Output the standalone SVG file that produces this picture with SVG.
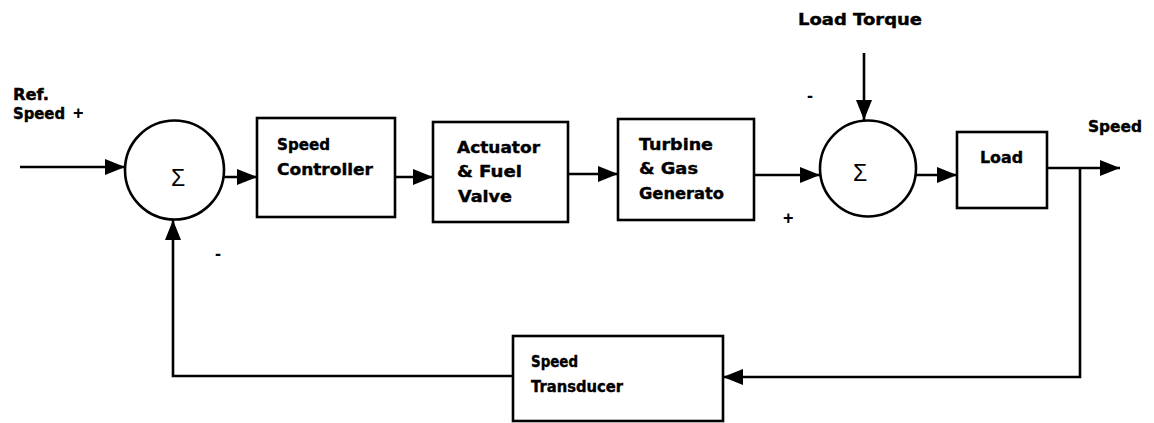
<svg xmlns="http://www.w3.org/2000/svg" width="1154" height="423" viewBox="0 0 1154 423">
<style>
.blk{fill:#fff;stroke:#000;stroke-width:2.6}
.ln{fill:none;stroke:#000;stroke-width:2.6;marker-end:url(#ah)}
.t{font-family:"DejaVu Sans",sans-serif;font-weight:bold;font-size:16px;fill:#000;stroke:#000;stroke-width:0.4}
.ts{font-size:15px}
.s{font-family:"Liberation Sans",sans-serif;font-size:23px;fill:#000;text-anchor:middle}
.sg{font-family:"Liberation Sans",sans-serif;font-weight:bold;font-size:18px;fill:#000}
</style>
<defs>
<marker id="ah" markerUnits="userSpaceOnUse" markerWidth="22" markerHeight="18" refX="20" refY="8" orient="auto">
<path d="M0,0 L20,8 L0,16 z" fill="#000"/>
</marker>
</defs>
<rect width="1154" height="423" fill="#fff"/>
<g id="connectors">
<path class="ln" d="M20,167 L125,167"/>
<path class="ln" d="M224,177 L257,177"/>
<path class="ln" d="M395,177 L433,177"/>
<path class="ln" d="M568,174 L618,174"/>
<path class="ln" d="M754,175 L820,175"/>
<path class="ln" d="M864,53 L864,120"/>
<path class="ln" d="M916,175 L957,175"/>
<path class="ln" d="M1047,168 L1120,168"/>
<path class="ln" d="M1080,168 L1080,377 L723,377"/>
<path class="ln" d="M513,376 L173,376 L173,220"/>
</g>
<g id="sum1">
<circle class="blk" cx="174.5" cy="170" r="49.5"/>
<text class="s" x="178" y="186">Σ</text>
</g>
<g id="speed-controller">
<rect class="blk" x="257" y="118" width="138" height="99"/>
<text class="t" x="277" y="150" textLength="53" lengthAdjust="spacingAndGlyphs">Speed</text>
<text class="t" x="277" y="175" textLength="96" lengthAdjust="spacingAndGlyphs">Controller</text>
</g>
<g id="actuator">
<rect class="blk" x="433" y="122" width="135" height="100"/>
<text class="t" x="457" y="153" textLength="83" lengthAdjust="spacingAndGlyphs">Actuator</text>
<text class="t" x="457" y="177" textLength="65" lengthAdjust="spacingAndGlyphs">&amp; Fuel</text>
<text class="t" x="458" y="202" textLength="54" lengthAdjust="spacingAndGlyphs">Valve</text>
</g>
<g id="turbine">
<rect class="blk" x="618" y="119" width="136" height="101"/>
<text class="t" x="639" y="150" textLength="74" lengthAdjust="spacingAndGlyphs">Turbine</text>
<text class="t" x="639" y="174" textLength="59" lengthAdjust="spacingAndGlyphs">&amp; Gas</text>
<text class="t" x="639" y="199" textLength="85" lengthAdjust="spacingAndGlyphs">Generato</text>
</g>
<g id="sum2">
<circle class="blk" cx="868" cy="168.5" r="48"/>
<text class="s" x="860" y="181">Σ</text>
</g>
<g id="load">
<rect class="blk" x="957" y="132" width="90" height="76"/>
<text class="t" x="980" y="163" textLength="43" lengthAdjust="spacingAndGlyphs">Load</text>
</g>
<g id="speed-transducer">
<rect class="blk" x="513" y="336" width="210" height="85"/>
<text class="t" x="531" y="367" textLength="47" lengthAdjust="spacingAndGlyphs">Speed</text>
<text class="t" x="531" y="392" textLength="92" lengthAdjust="spacingAndGlyphs">Transducer</text>
</g>
<g id="labels">
<text class="t ts" x="13" y="100" textLength="36" lengthAdjust="spacingAndGlyphs">Ref.</text>
<text class="t ts" x="13" y="119" textLength="52" lengthAdjust="spacingAndGlyphs">Speed</text>
<text class="sg" x="73" y="119">+</text>
<text class="t" x="798" y="25" textLength="124" lengthAdjust="spacingAndGlyphs">Load Torque</text>
<text class="t" x="1088" y="132" textLength="54" lengthAdjust="spacingAndGlyphs">Speed</text>
<text class="sg" x="807" y="102">-</text>
<text class="sg" x="783" y="224">+</text>
<text class="sg" x="215" y="260">-</text>
</g>
</svg>
